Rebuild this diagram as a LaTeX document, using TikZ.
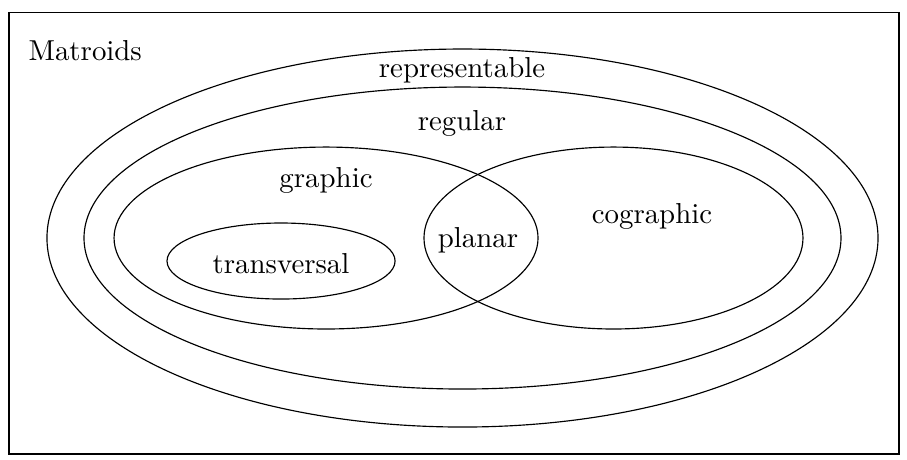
\documentclass[tikz,border=0pt]{standalone}
\usepackage{tikz}
\usetikzlibrary{positioning}

\begin{document}
\begin{tikzpicture}[set/.style={thin}, lbl/.style={anchor=base, inner sep=0pt}]

    \useasboundingbox (0,0) rectangle (11.047,5.591);

    %Frame
    \draw[thin] (0.110,0.061) rectangle (10.950,5.444);
    \node[lbl, anchor=base west] (matroids) at (0.341,4.86) {Matroids};

    %Classes
    \draw[set] (5.633,2.692) ellipse (5.061 and 2.302);
    \draw[set] (5.633,2.692) ellipse (4.610 and 1.839);
    \draw[set] (3.971,2.692) ellipse (2.582 and 1.108);
    \draw[set] (7.472,2.692) ellipse (2.308 and 1.108);
    \draw[set] (3.423,2.412) ellipse (1.389 and 0.463);

    %Labels
    \node[lbl] (representable) at (5.627,4.653) {representable};
    \node[lbl] (regular) at (5.627,4.007) {regular};
    \node[lbl] (graphic) at (3.971,3.313) {graphic};
    \node[lbl] (cographic) at (7.941,2.874) {cographic};
    \node[lbl] (planar) at (5.822,2.582) {planar};
    \node[lbl] (transversal) at (3.423,2.265) {transversal};

\end{tikzpicture}
\end{document}
